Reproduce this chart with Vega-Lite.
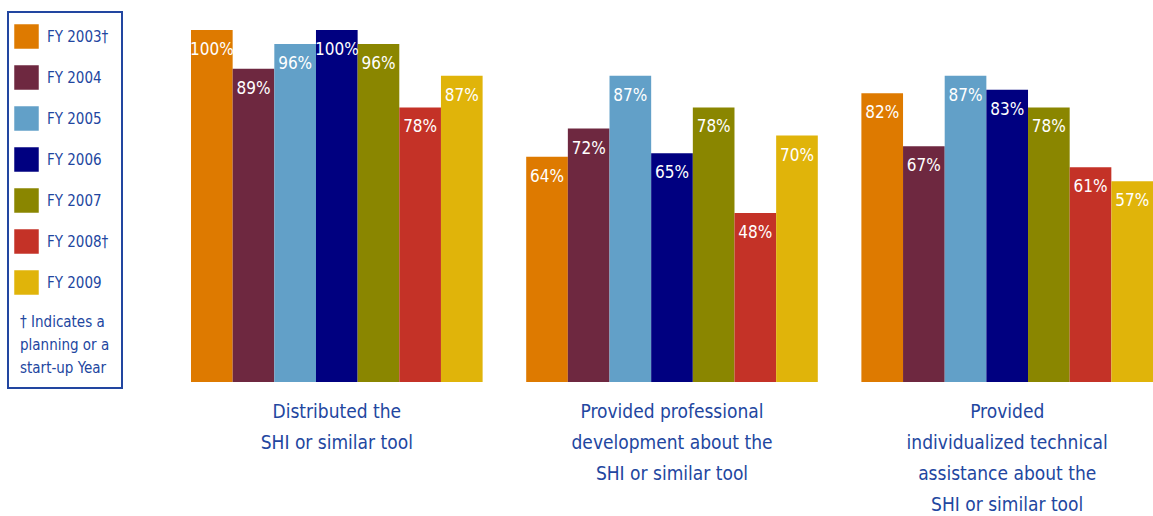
{
  "$schema": "https://vega.github.io/schema/vega-lite/v6.json",
  "autosize": "none",
  "width": 962,
  "height": 352,
  "padding": {"left": 191, "top": 30, "right": 0, "bottom": 134},
  "background": "white",
  "config": {
    "view": {"stroke": null},
    "font": "DejaVu Sans Condensed",
    "legend": {"strokeWidth": 2}
  },
  "data": {
    "values": [
      {"activity": "Distributed the|SHI or similar tool", "year": "FY 2003†", "value": 1.00},
      {"activity": "Distributed the|SHI or similar tool", "year": "FY 2004", "value": 0.89},
      {"activity": "Distributed the|SHI or similar tool", "year": "FY 2005", "value": 0.96},
      {"activity": "Distributed the|SHI or similar tool", "year": "FY 2006", "value": 1.00},
      {"activity": "Distributed the|SHI or similar tool", "year": "FY 2007", "value": 0.96},
      {"activity": "Distributed the|SHI or similar tool", "year": "FY 2008†", "value": 0.78},
      {"activity": "Distributed the|SHI or similar tool", "year": "FY 2009", "value": 0.87},
      {"activity": "Provided professional|development about the|SHI or similar tool", "year": "FY 2003†", "value": 0.64},
      {"activity": "Provided professional|development about the|SHI or similar tool", "year": "FY 2004", "value": 0.72},
      {"activity": "Provided professional|development about the|SHI or similar tool", "year": "FY 2005", "value": 0.87},
      {"activity": "Provided professional|development about the|SHI or similar tool", "year": "FY 2006", "value": 0.65},
      {"activity": "Provided professional|development about the|SHI or similar tool", "year": "FY 2007", "value": 0.78},
      {"activity": "Provided professional|development about the|SHI or similar tool", "year": "FY 2008†", "value": 0.48},
      {"activity": "Provided professional|development about the|SHI or similar tool", "year": "FY 2009", "value": 0.70},
      {"activity": "Provided|individualized technical|assistance about the|SHI or similar tool", "year": "FY 2003†", "value": 0.82},
      {"activity": "Provided|individualized technical|assistance about the|SHI or similar tool", "year": "FY 2004", "value": 0.67},
      {"activity": "Provided|individualized technical|assistance about the|SHI or similar tool", "year": "FY 2005", "value": 0.87},
      {"activity": "Provided|individualized technical|assistance about the|SHI or similar tool", "year": "FY 2006", "value": 0.83},
      {"activity": "Provided|individualized technical|assistance about the|SHI or similar tool", "year": "FY 2007", "value": 0.78},
      {"activity": "Provided|individualized technical|assistance about the|SHI or similar tool", "year": "FY 2008†", "value": 0.61},
      {"activity": "Provided|individualized technical|assistance about the|SHI or similar tool", "year": "FY 2009", "value": 0.57}
    ]
  },
  "encoding": {
    "x": {
      "field": "activity",
      "type": "nominal",
      "sort": null,
      "scale": {"paddingInner": 0.13, "paddingOuter": 0},
      "axis": {
        "title": null,
        "domain": false,
        "ticks": false,
        "labelAngle": 0,
        "labelExpr": "split(datum.label, '|')",
        "labelFont": "DejaVu Sans Condensed",
        "labelFontSize": 19,
        "labelColor": "#2246a0",
        "labelLineHeight": 31,
        "labelPadding": 20,
        "labelLimit": 0,
        "labelBaseline": "top"
      }
    },
    "xOffset": {
      "field": "year",
      "type": "nominal",
      "sort": null,
      "scale": {"paddingInner": 0, "paddingOuter": 0}
    },
    "y": {
      "field": "value",
      "type": "quantitative",
      "scale": {"domain": [0, 1]},
      "axis": null
    }
  },
  "layer": [
    {
      "mark": {"type": "bar"},
      "encoding": {
        "color": {
          "field": "year",
          "type": "nominal",
          "sort": null,
          "scale": {
            "domain": ["FY 2003†", "FY 2004", "FY 2005", "FY 2006", "FY 2007", "FY 2008†", "FY 2009"],
            "range": ["#de7a00", "#6e2840", "#62a0c8", "#000080", "#8a8600", "#c43227", "#e0b40a"]
          },
          "legend": {
            "orient": "none",
            "legendX": -183,
            "legendY": -18,
            "title": ["† Indicates a", "planning or a", "start-up Year"],
            "titleOrient": "bottom",
            "titleAnchor": "start",
            "titleFont": "DejaVu Sans Condensed",
            "titleFontSize": 15,
            "titleFontWeight": "normal",
            "titleColor": "#2246a0",
            "titleLineHeight": 23,
            "titlePadding": 20,
            "symbolType": "square",
            "symbolSize": 600,
            "symbolStrokeWidth": 0,
            "symbolOpacity": 1,
            "symbolOffset": -6,
            "labelFont": "DejaVu Sans Condensed",
            "labelFontSize": 15,
            "labelColor": "#2246a0",
            "labelOffset": 8,
            "rowPadding": 16,
            "padding": 12,
            "strokeColor": "#2246a0",
            "fillColor": "white"
          }
        }
      }
    },
    {
      "mark": {
        "type": "text",
        "baseline": "top",
        "dy": 12,
        "color": "white",
        "font": "DejaVu Sans Condensed",
        "fontSize": 17
      },
      "encoding": {
        "text": {"field": "value", "type": "quantitative", "format": ".0%"}
      }
    }
  ]
}
